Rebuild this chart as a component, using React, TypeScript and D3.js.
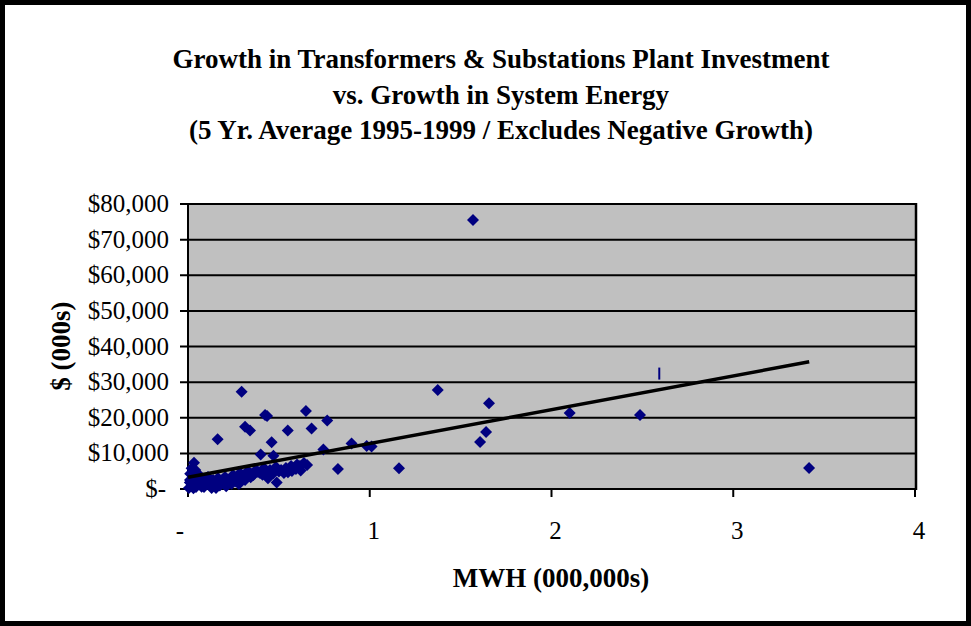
import React from "react";
import * as d3 from "d3";

const titleLines = [
  "Growth in Transformers & Substations Plant Investment",
  "vs. Growth in System Energy",
  "(5 Yr. Average 1995-1999 / Excludes Negative Growth)",
];
const xAxisTitle = "MWH (000,000s)";
const yAxisTitle = "$ (000s)";

const xTicks = [0, 1, 2, 3, 4];
const yTicks = [0, 10000, 20000, 30000, 40000, 50000, 60000, 70000, 80000];

// scatter points: MWH (000,000s) and $ (000s)
const pointX = [
  1.568, 1.374, 1.656, 1.64, 1.607, 2.1, 2.487, 3.417, 1.161, 0.825,
  0.983, 1.01, 0.9, 0.745, 0.766, 0.68, 0.649, 0.549, 0.295, 0.424,
  0.435, 0.314, 0.341, 0.163, 0.46, 0.4, 0.47, 0.44, 0.488, 0.033,
  0.04, 0.005, 0.022, 0.044, 0.066, 0.088, 0.121, 0.154, 0.011, 0.028,
  0.05, 0.083, 0.11, 0.138, 0.165, 0.187, 0.204, 0.231, 0.248, 0.27,
  0.286, 0.308, 0.33, 0.352, 0.374, 0.396, 0.418, 0.451, 0.484, 0.512,
  0.539, 0.567, 0.594, 0.616, 0.638, 0.655, 0.528, 0.572, 0.314, 0.22,
  0.01, 0.03, 0.06, 0.075, 0.1, 0.13, 0.145, 0.175, 0.19, 0.21,
  0.24, 0.26, 0.28, 0.3, 0.32, 0.345, 0.36, 0.385, 0.41, 0.43,
  0.47, 0.5, 0.55, 0.58, 0.6, 0.62, 0.012, 0.02, 0.06,
];
const pointY = [
  75500, 27800, 24100, 16000, 13200, 21300, 20800, 5900, 5800, 5600,
  12100, 11900, 12800, 11100, 19200, 17000, 21900, 16400, 27300, 20800,
  20500, 17500, 16400, 13950, 13100, 9700, 9300, 3000, 1800, 7400,
  5300, 300, 1100, 560, 1400, 560, 1100, 280, 2500, 3650,
  3100, 2800, 3370, 2500, 3100, 1700, 3370, 2500, 3930, 3100,
  4500, 3650, 5050, 4200, 5330, 4500, 5900, 5330, 6200, 5330,
  5900, 6460, 5600, 6460, 7300, 6740, 4500, 5050, 2500, 1700,
  1800, 200, 2200, 600, 2000, 300, 1800, 1000, 2700, 800,
  1500, 2200, 1400, 2900, 4500, 3300, 3900, 4800, 4000, 5000,
  4400, 4900, 4700, 5800, 6900, 5200, 4300, 5800, 4000,
];
// single point drawn with a bar marker
const barPointX = [2.593];
const barPointY = [32400];

// linear trendline endpoints
const trendX = [0, 3.418];
const trendY = [3300, 35700];

const W = 971;
const H = 626;
const plot = { left: 188, right: 915, top: 204, bottom: 489 };

const fmtY = (v: number) => (v === 0 ? "$-" : "$" + d3.format(",")(v));
const fmtX = (v: number) => (v === 0 ? "-" : String(v));

export default function App() {
  const x = d3.scaleLinear().domain([0, 4]).range([plot.left, plot.right]);
  const y = d3.scaleLinear().domain([0, 80000]).range([plot.bottom, plot.top]);
  const line = d3
    .line<number>()
    .x((d) => x(trendX[d]))
    .y((d) => y(trendY[d]));
  const font = "'Liberation Serif', 'Times New Roman', serif";
  const diamond = (cx: number, cy: number, r: number) =>
    `M${cx},${cy - r}L${cx + r},${cy}L${cx},${cy + r}L${cx - r},${cy}Z`;

  return (
    <svg
      width={W}
      height={H}
      style={{ position: "absolute", left: 0, top: 0, background: "#fff" }}
      fontFamily={font}
    >
      <rect x={0} y={0} width={W} height={H} fill="#fff" />
      <rect x={2.5} y={2.5} width={W - 5} height={H - 5} fill="none" stroke="#000" strokeWidth={5} />

      {titleLines.map((t, i) => (
        <text key={i} x={501} y={68 + i * 35.5} textAnchor="middle" fontSize={27} fontWeight="bold">
          {t}
        </text>
      ))}

      <rect
        x={plot.left}
        y={plot.top}
        width={plot.right - plot.left}
        height={plot.bottom - plot.top}
        fill="#C0C0C0"
      />
      {yTicks.map((v) => (
        <line key={"g" + v} x1={plot.left - 8} x2={plot.right} y1={y(v)} y2={y(v)} stroke="#000" strokeWidth={2} />
      ))}
      <line x1={plot.left} x2={plot.left} y1={plot.top - 1} y2={plot.bottom + 1} stroke="#000" strokeWidth={2} />
      <line x1={plot.right + 1} x2={plot.right + 1} y1={plot.top - 1} y2={plot.bottom + 1} stroke="#000" strokeWidth={2.5} />
      {xTicks.map((v) => (
        <line key={"xt" + v} x1={x(v)} x2={x(v)} y1={plot.bottom} y2={plot.bottom + 8} stroke="#000" strokeWidth={2} />
      ))}

      {yTicks.map((v) => (
        <text key={"yl" + v} x={v === 0 ? 166 : 169} y={y(v) + 8} textAnchor="end" fontSize={25}>
          {fmtY(v)}
        </text>
      ))}
      {xTicks.map((v) => (
        <text key={"xl" + v} x={v === 0 ? x(v) - 8 : x(v) + 4} y={539} textAnchor="middle" fontSize={25}>
          {fmtX(v)}
        </text>
      ))}

      <text x={551} y={587} textAnchor="middle" fontSize={27} fontWeight="bold">
        {xAxisTitle}
      </text>
      <text
        transform={`translate(70,346) rotate(-90)`}
        textAnchor="middle"
        fontSize={27}
        fontWeight="bold"
      >
        {yAxisTitle}
      </text>

      <g fill="#000080">
        {pointX.map((px, i) => (
          <path key={"p" + i} d={diamond(x(px), y(pointY[i]), 6)} />
        ))}
      </g>
      {barPointX.map((px, i) => (
        <line
          key={"b" + i}
          x1={x(px)}
          x2={x(px)}
          y1={y(barPointY[i]) - 6}
          y2={y(barPointY[i]) + 6}
          stroke="#000080"
          strokeWidth={2}
        />
      ))}
      <path d={line([0, 1]) || ""} fill="none" stroke="#000" strokeWidth={3.5} />
    </svg>
  );
}
